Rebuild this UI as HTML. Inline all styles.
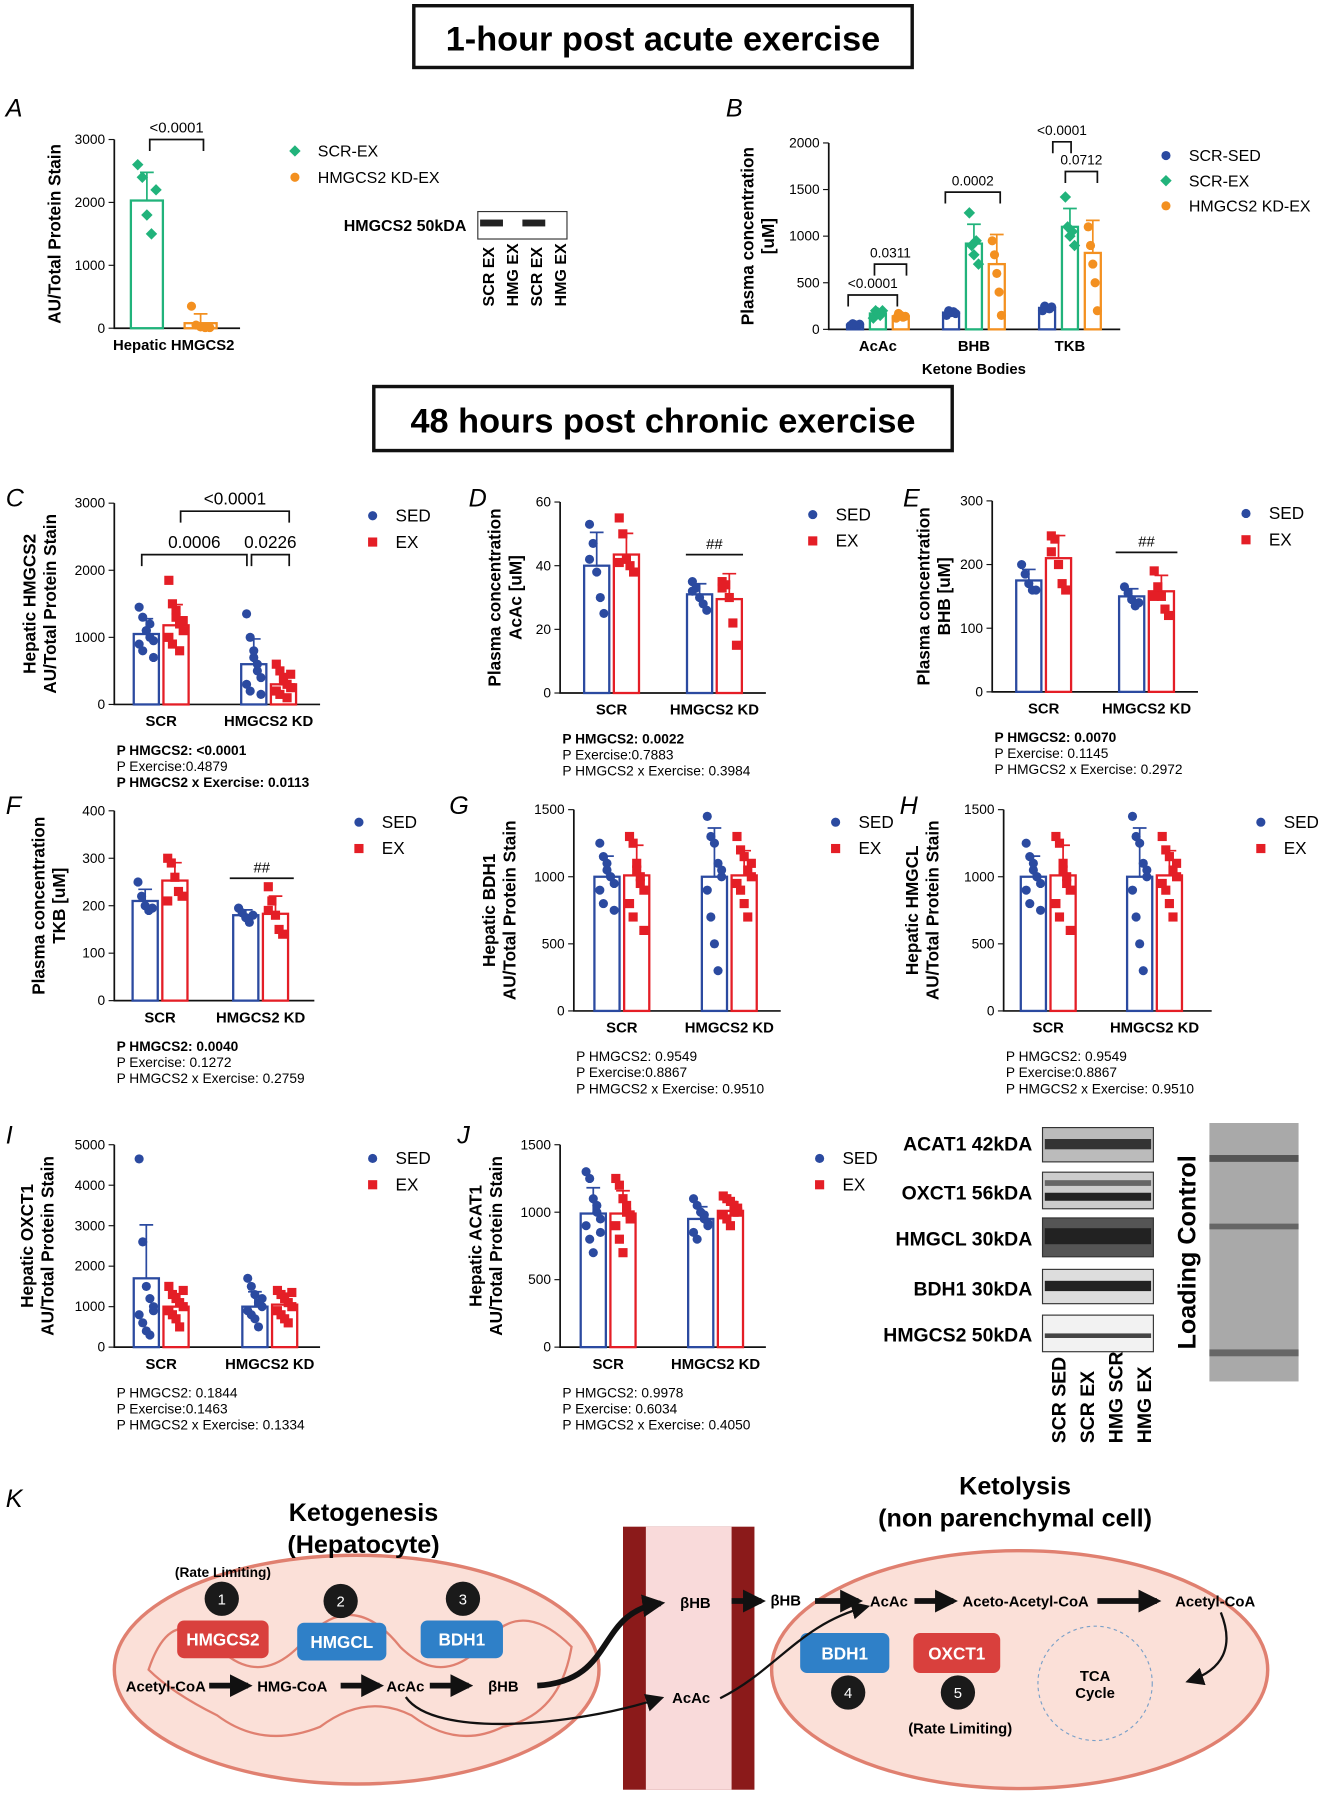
<!DOCTYPE html>
<html><head><meta charset="utf-8"><style>
html,body{margin:0;padding:0;background:#fff}
svg{display:block}
text{font-family:"Liberation Sans",sans-serif}
</style></head><body>
<svg id="fig" width="1326" height="1800" viewBox="0 0 1160 1574" preserveAspectRatio="none" xmlns="http://www.w3.org/2000/svg">
<defs><marker id="ah" viewBox="0 0 10 10" refX="8" refY="5" markerWidth="4" markerHeight="4" orient="auto"><path d="M0 0L10 5L0 10z" fill="#111"/></marker>
<marker id="ah2" viewBox="0 0 10 10" refX="8" refY="5" markerWidth="8" markerHeight="8" orient="auto"><path d="M0 0L10 5L0 10z" fill="#111"/></marker></defs>
<g id="hdr">
<rect x="362" y="5" width="436" height="54" fill="#fff" stroke="#111" stroke-width="3"/>
<text x="580" y="44" font-size="30" font-weight="bold" text-anchor="middle">1-hour post acute exercise</text>
<rect x="327" y="338" width="506" height="56" fill="#fff" stroke="#111" stroke-width="3"/>
<text x="580" y="378" font-size="30" font-weight="bold" text-anchor="middle">48 hours post chronic exercise</text>
</g>
<g id="charts"></g>
<g id="blots">
<rect x="418" y="185" width="78" height="24" fill="#fff" stroke="#333"/>
<rect x="420" y="192" width="20" height="6" fill="#222"/><rect x="457" y="192" width="20" height="6" fill="#222"/>
<text x="408" y="202" font-size="14" font-weight="bold" text-anchor="end">HMGCS2 50kDA</text>
<g font-size="14" font-weight="bold">
<text transform="translate(432,268) rotate(-90)">SCR EX</text><text transform="translate(453,268) rotate(-90)">HMG EX</text>
<text transform="translate(474,268) rotate(-90)">SCR EX</text><text transform="translate(495,268) rotate(-90)">HMG EX</text>
</g>
<g font-size="17" font-weight="bold" text-anchor="end">
<text x="903" y="1006">ACAT1  42kDA</text><text x="903" y="1049">OXCT1  56kDA</text><text x="903" y="1089">HMGCL  30kDA</text><text x="903" y="1133">BDH1  30kDA</text><text x="903" y="1173">HMGCS2  50kDA</text>
</g>
<rect x="912" y="986" width="97" height="30" fill="#bbb" stroke="#333"/><rect x="914" y="996" width="93" height="9" fill="#333"/>
<rect x="912" y="1025" width="97" height="32" fill="#ccc" stroke="#333"/><rect x="914" y="1032" width="93" height="5" fill="#666"/><rect x="914" y="1043" width="93" height="7" fill="#222"/>
<rect x="912" y="1065" width="97" height="34" fill="#555" stroke="#333"/><rect x="914" y="1074" width="93" height="14" fill="#222"/>
<rect x="912" y="1110" width="97" height="30" fill="#ddd" stroke="#333"/><rect x="914" y="1120" width="93" height="9" fill="#222"/>
<rect x="912" y="1150" width="97" height="32" fill="#f2f2f2" stroke="#333"/><rect x="914" y="1166" width="93" height="4" fill="#444"/>
<g font-size="17" font-weight="bold">
<text transform="translate(932,1262) rotate(-90)">SCR SED</text><text transform="translate(957,1262) rotate(-90)">SCR EX</text>
<text transform="translate(982,1262) rotate(-90)">HMG SCR</text><text transform="translate(1007,1262) rotate(-90)">HMG EX</text>
</g>
<text transform="translate(1046,1180) rotate(-90)" font-size="22" font-weight="bold">Loading Control</text>
<rect x="1058" y="982" width="78" height="226" fill="#a9a9a9"/>
<rect x="1058" y="1010" width="78" height="6" fill="#555"/><rect x="1058" y="1070" width="78" height="5" fill="#666"/><rect x="1058" y="1180" width="78" height="6" fill="#666"/>
</g>
<g id="diagram">
<text x="5" y="1318" font-size="22" font-style="italic">K</text>
<ellipse cx="312" cy="1460" rx="212" ry="100" fill="#fbe0d8" stroke="#e08070" stroke-width="3"/>
<path d="M130 1460 q20 -60 60 -20 q40 40 80 -10 q40 -40 80 10 q40 40 80 -10 q30 -30 70 10 q-10 60 -60 70 q-40 20 -80 -10 q-40 -20 -80 10 q-50 20 -90 -10 q-40 -20 -60 -40z" fill="none" stroke="#e08070" stroke-width="2"/>
<ellipse cx="892" cy="1460" rx="217" ry="104" fill="#fbe0d8" stroke="#e08070" stroke-width="3"/>
<rect x="545" y="1335" width="115" height="230" fill="#8b1a1a"/><rect x="565" y="1335" width="75" height="230" fill="#f9dada"/>
<text x="318" y="1330" font-size="22" font-weight="bold" text-anchor="middle">Ketogenesis</text>
<text x="318" y="1358" font-size="22" font-weight="bold" text-anchor="middle">(Hepatocyte)</text>
<text x="888" y="1307" font-size="22" font-weight="bold" text-anchor="middle">Ketolysis</text>
<text x="888" y="1335" font-size="22" font-weight="bold" text-anchor="middle">(non parenchymal cell)</text>
<text x="195" y="1379" font-size="12" font-weight="bold" text-anchor="middle">(Rate Limiting)</text>
<g fill="#1a1a1a"><circle cx="194" cy="1398" r="15"/><circle cx="298" cy="1400" r="15"/><circle cx="405" cy="1398" r="15"/><circle cx="742" cy="1480" r="15"/><circle cx="838" cy="1480" r="15"/></g>
<g fill="#fff" font-size="13" text-anchor="middle"><text x="194" y="1403">1</text><text x="298" y="1405">2</text><text x="405" y="1403">3</text><text x="742" y="1485">4</text><text x="838" y="1485">5</text></g>
<rect x="155" y="1417" width="80" height="33" rx="6" fill="#d9403d"/><rect x="260" y="1419" width="78" height="33" rx="6" fill="#2f80c8"/><rect x="368" y="1417" width="72" height="33" rx="6" fill="#2f80c8"/>
<rect x="700" y="1428" width="78" height="35" rx="6" fill="#2f80c8"/><rect x="799" y="1428" width="76" height="35" rx="6" fill="#d9403d"/>
<g fill="#fff" font-size="15" font-weight="bold" text-anchor="middle"><text x="195" y="1439">HMGCS2</text><text x="299" y="1441">HMGCL</text><text x="404" y="1439">BDH1</text><text x="739" y="1451">BDH1</text><text x="837" y="1451">OXCT1</text></g>
<g font-size="13" font-weight="bold"><text x="110" y="1479">Acetyl-CoA</text><text x="225" y="1479">HMG-CoA</text><text x="338" y="1479">AcAc</text><text x="427" y="1479">βHB</text>
<text x="595" y="1406">βHB</text><text x="588" y="1489">AcAc</text><text x="674" y="1404">βHB</text><text x="761" y="1405">AcAc</text><text x="842" y="1405">Aceto-Acetyl-CoA</text><text x="1028" y="1405">Acetyl-CoA</text>
<text x="958" y="1470" text-anchor="middle">TCA</text><text x="958" y="1485" text-anchor="middle">Cycle</text><text x="840" y="1516" text-anchor="middle">(Rate Limiting)</text></g>
<g stroke="#111" stroke-width="5" fill="none" marker-end="url(#ah)"><path d="M183 1474h34"/><path d="M298 1474h34"/><path d="M376 1474h34"/><path d="M640 1400h26"/><path d="M713 1400h38"/><path d="M800 1400h34"/><path d="M960 1400h52"/></g>
<path d="M470 1474 C540 1470 520 1410 578 1402" stroke="#111" stroke-width="5" fill="none" marker-end="url(#ah)"/>
<path d="M355 1484 C380 1520 500 1510 578 1485" stroke="#111" stroke-width="2" fill="none" marker-end="url(#ah2)"/>
<path d="M630 1485 C680 1460 700 1420 758 1405" stroke="#111" stroke-width="2" fill="none" marker-end="url(#ah2)"/>
<path d="M1068 1410 C1080 1440 1070 1460 1040 1470" stroke="#111" stroke-width="2" fill="none" marker-end="url(#ah2)"/>
<circle cx="958" cy="1472" r="50" fill="none" stroke="#7aa0c8" stroke-dasharray="3 3"/>
</g>
</svg>
<script>
const NS='http://www.w3.org/2000/svg';
const root=document.getElementById('charts');
const BLUE='#2b4aa0',RED='#e41e26',GREEN='#21b37b',ORANGE='#f39020';
// ---- data ----
const aCats=['Hepatic HMGCS2'];
const aScrEx=[2030];const aKdEx=[80];
const aScrExPts=[[2600,2400,1800,1500,2200]];const aKdExPts=[[350,50,20,10,10]];
const bCats=['AcAc','BHB','TKB'];
const bSed=[50,180,230];const bEx=[170,920,1100];const bKd=[140,700,820];
const bSedPts=[[40,60,50,45,55],[150,200,180,190,170],[200,250,230,220,240]];
const bExPts=[[120,200,180,150,200],[1250,900,800,950,700],[1420,1100,1000,1050,900]];
const bKdPts=[[120,170,150,130,140],[950,800,600,400,150],[1100,900,700,500,200]];
const chCats=['SCR','HMGCS2 KD'];
const cSed=[1050,600];const cEx=[1180,300];
const cSedPts=[[1450,1300,1100,1000,950,900,800,1100,1200,700],[1350,1000,700,500,400,300,200,800,600,150]];
const cExPts=[[1850,1500,1300,1200,1100,1000,900,1400,800,1250],[600,500,400,300,250,200,150,350,100,450]];
const dSed=[40,31];const dEx=[43.5,29.5];
const dSedPts=[[53,47,38,30,25,42],[35,33,30,28,26,32]];const dExPts=[[55,50,42,40,38,41],[35,34,30,22,15,33]];
const eSed=[175,150];const eEx=[210,158];
const eSedPts=[[200,185,170,160,160],[165,155,145,135,140]];const eExPts=[[245,240,200,170,160,220],[190,165,150,130,120,150]];
const fSed=[210,180];const fEx=[253,183];
const fSedPts=[[250,220,200,190,195],[195,185,175,165,180]];const fExPts=[[300,290,260,230,220,210],[240,210,180,150,140,190]];
const gSed=[1000,1000];const gEx=[1010,1010];
const gSedPts=[[1250,1150,1050,1000,950,900,800,1100,1000,750],[1450,1300,1250,1100,1000,900,700,500,300,1050]];
const gExPts=[[1300,1250,1100,1000,900,800,700,1050,950,600],[1300,1200,1150,1050,1000,950,900,800,700,1100]];
const iSed=[1700,1000];const iEx=[1000,1050];
const iSedPts=[[4650,2600,1500,1200,1000,800,600,400,300,900],[1700,1500,1300,1100,1000,900,800,700,500,1200]];
const iExPts=[[1500,1300,1200,1100,1000,900,800,700,500,1400],[1400,1300,1200,1100,1000,900,800,700,600,1350]];
const jSed=[990,950];const jEx=[990,1010];
const jSedPts=[[1300,1250,1100,1000,950,900,800,700,1050,850],[1100,1050,1000,950,900,850,800,1000,980,920]];
const jExPts=[[1250,1200,1100,1000,950,900,800,700,1050,980],[1120,1100,1080,1050,1000,980,950,900,1000,1030]];
function el(t,a,p){const e=document.createElementNS(NS,t);for(const k in a)e.setAttribute(k,a[k]);(p||root).appendChild(e);return e;}
function tx(s,x,y,a,p){const e=el('text',Object.assign({x:x,y:y},a||{}),p);e.textContent=s;return e;}
function sd(a){const m=a.reduce((s,v)=>s+v,0)/a.length;return Math.sqrt(a.reduce((s,v)=>s+(v-m)*(v-m),0)/(a.length-1));}
function panel(o){
 const g=el('g',{});
 
 
 const y=v=>o.y0-(v/o.max)*(o.y0-o.y1);
 const ax=el('path',{d:`M${o.ax} ${o.y1}V${o.y0}H${o.axEnd}`,stroke:'#111','stroke-width':1.5,fill:'none'},g);
 
 
 o.ticks.forEach(t=>{el('line',{x1:o.ax-5,x2:o.ax,y1:y(t),y2:y(t),stroke:'#111'},g);const l=tx(String(t),o.ax-8,y(t)+4,{'font-size':12,'text-anchor':'end'},g);});
 o.cats.forEach((c,i)=>{const cx=o.ax+o.pad+i*o.gap;const l=tx(c,cx,o.y0+19,{'font-size':13,'font-weight':'bold','text-anchor':'middle'},g);
  o.series.forEach((s,k)=>{const bx=cx+(k-(o.series.length-1)/2)*o.step;const v=s.vals[i];const pts=s.pts[i];
   const r=el('rect',{x:bx-o.bw/2,y:y(v),width:o.bw,height:o.y0-y(v),fill:'#fff',stroke:s.c,'stroke-width':2},g);
   
   
   const e=sd(pts);el('path',{d:`M${bx} ${y(v)}V${y(v+e)}M${bx-6} ${y(v+e)}h12`,stroke:s.c,'stroke-width':1.5},g);
   pts.forEach((p,j)=>{const jx=bx+((j%5)-2)*o.bw/7;
    const m=s.shape==='sq'?el('rect',{x:jx-4,y:y(p)-4,width:8,height:8,fill:s.c},g):s.shape==='dia'?el('path',{d:`M${jx} ${y(p)-5}l5 5l-5 5l-5 -5z`,fill:s.c},g):el('circle',{cx:jx,cy:y(p),r:4,fill:s.c},g);
    
    });
  });});
 const t=tx('',0,0,{'font-size':15,'font-weight':'bold','text-anchor':'middle',transform:`translate(${o.tx},${(o.y0+o.y1)/2}) rotate(-90)`},g);
 
 
 o.title.forEach((s,i)=>{const ts=el('tspan',{x:0,dy:i?18:(o.title.length>1?-9:0)},t);ts.textContent=s;});
 if(o.letter){const L=tx(o.letter,o.lx,o.ly,{'font-size':22,'font-style':'italic'},g);}
 let ly=o.legY;o.series.forEach(s=>{const mk=s.shape==='sq'?el('rect',{x:o.legX-4,y:ly-4,width:8,height:8,fill:s.c},g):s.shape==='dia'?el('path',{d:`M${o.legX} ${ly-5}l5 5l-5 5l-5 -5z`,fill:s.c},g):el('circle',{cx:o.legX,cy:ly,r:4,fill:s.c},g);
  
  
  const lt=tx(s.label,o.legX+20,ly+5,{'font-size':o.legFs||15},g);ly+=o.legDy||23;});
 (o.stats||[]).forEach((s,i)=>{const st=tx(s,o.ax+2,o.y0+44+i*14,{'font-size':12,'font-weight':i===0&&o.bold0||o.boldAll&&i!==1?'bold':'normal'},g);});
 return {g,y};
}
const SED=(v,p)=>({n:'sed',c:BLUE,shape:'circ',vals:v,pts:p,label:'SED'});
const EX=(v,p)=>({n:'ex',c:RED,shape:'sq',vals:v,pts:p,label:'EX'});
// A
panel({name:'panel-a',letter:'A',lx:5,ly:102,ax:100,axEnd:210,y0:287,y1:122,max:3000,ticks:[0,1000,2000,3000],cats:aCats,pad:52,gap:0,step:47,bw:28,
 series:[{n:'scr-ex',c:GREEN,shape:'dia',vals:aScrEx,pts:aScrExPts,label:'SCR-EX'},{n:'kd-ex',c:ORANGE,shape:'circ',vals:aKdEx,pts:aKdExPts,label:'HMGCS2 KD-EX'}],
 title:['AU/Total Protein Stain'],tx:53,legX:258,legY:132,legFs:14});
// B
panel({name:'panel-b',letter:'B',lx:635,ly:102,ax:725,axEnd:980,y0:288,y1:125,max:2000,ticks:[0,500,1000,1500,2000],cats:bCats,pad:43,gap:84,step:20,bw:14,
 series:[{n:'scr-sed',c:BLUE,shape:'circ',vals:bSed,pts:bSedPts,label:'SCR-SED'},{n:'scr-ex',c:GREEN,shape:'dia',vals:bEx,pts:bExPts,label:'SCR-EX'},{n:'kd-ex',c:ORANGE,shape:'circ',vals:bKd,pts:bKdPts,label:'HMGCS2 KD-EX'}],
 title:['Plasma concentration','[uM]'],tx:668,legX:1020,legY:136,legFs:14,legDy:22});
tx('Ketone Bodies',852,327,{'font-size':13,'font-weight':'bold','text-anchor':'middle'});
// C
panel({name:'panel-c',letter:'C',lx:5,ly:443,ax:100,axEnd:280,y0:616,y1:440,max:3000,ticks:[0,1000,2000,3000],cats:chCats,pad:41,gap:94,step:26,bw:22,
 series:[SED(cSed,cSedPts),EX(cEx,cExPts)],title:['Hepatic HMGCS2','AU/Total Protein Stain'],tx:40,legX:326,legY:451,
 stats:['P HMGCS2: <0.0001','P Exercise:0.4879','P HMGCS2 x Exercise: 0.0113'],boldAll:true});
// D
panel({name:'panel-d',letter:'D',lx:410,ly:443,ax:490,axEnd:670,y0:606,y1:439,max:60,ticks:[0,20,40,60],cats:chCats,pad:45,gap:90,step:26,bw:22,
 series:[SED(dSed,dSedPts),EX(dEx,dExPts)],title:['Plasma concentration','AcAc [uM]'],tx:447,legX:711,legY:450,
 stats:['P HMGCS2: 0.0022','P Exercise:0.7883','P HMGCS2 x Exercise: 0.3984'],bold0:true});
// E
panel({name:'panel-e',letter:'E',lx:790,ly:443,ax:868,axEnd:1048,y0:605,y1:438,max:300,ticks:[0,100,200,300],cats:chCats,pad:45,gap:90,step:26,bw:22,
 series:[SED(eSed,eSedPts),EX(eEx,eExPts)],title:['Plasma concentration','BHB [uM]'],tx:822,legX:1090,legY:449,
 stats:['P HMGCS2: 0.0070','P Exercise: 0.1145','P HMGCS2 x Exercise: 0.2972'],bold0:true});
// F
panel({name:'panel-f',letter:'F',lx:5,ly:712,ax:100,axEnd:275,y0:875,y1:709,max:400,ticks:[0,100,200,300,400],cats:chCats,pad:40,gap:88,step:26,bw:22,
 series:[SED(fSed,fSedPts),EX(fEx,fExPts)],title:['Plasma concentration','TKB [uM]'],tx:48,legX:314,legY:719,
 stats:['P HMGCS2: 0.0040','P Exercise: 0.1272','P HMGCS2 x Exercise: 0.2759'],bold0:true});
// G
panel({name:'panel-g',letter:'G',lx:393,ly:712,ax:502,axEnd:683,y0:884,y1:708,max:1500,ticks:[0,500,1000,1500],cats:chCats,pad:42,gap:94,step:26,bw:22,
 series:[SED(gSed,gSedPts),EX(gEx,gExPts)],title:['Hepatic BDH1','AU/Total Protein Stain'],tx:442,legX:731,legY:719,
 stats:['P HMGCS2: 0.9549','P Exercise:0.8867','P HMGCS2 x Exercise: 0.9510']});
// H
panel({name:'panel-h',letter:'H',lx:787,ly:712,ax:878,axEnd:1060,y0:884,y1:708,max:1500,ticks:[0,500,1000,1500],cats:chCats,pad:39,gap:93,step:26,bw:22,
 series:[SED(gSed,gSedPts),EX(gEx,gExPts)],title:['Hepatic HMGCL','AU/Total Protein Stain'],tx:812,legX:1103,legY:719,
 stats:['P HMGCS2: 0.9549','P Exercise:0.8867','P HMGCS2 x Exercise: 0.9510']});
// I
panel({name:'panel-i',letter:'I',lx:5,ly:1000,ax:100,axEnd:280,y0:1178,y1:1001,max:5000,ticks:[0,1000,2000,3000,4000,5000],cats:chCats,pad:41,gap:95,step:26,bw:22,
 series:[SED(iSed,iSedPts),EX(iEx,iExPts)],title:['Hepatic OXCT1','AU/Total Protein Stain'],tx:38,legX:326,legY:1013,
 stats:['P HMGCS2: 0.1844','P Exercise:0.1463','P HMGCS2 x Exercise: 0.1334']});
// J
panel({name:'panel-j',letter:'J',lx:400,ly:1000,ax:490,axEnd:670,y0:1178,y1:1001,max:1500,ticks:[0,500,1000,1500],cats:chCats,pad:42,gap:94,step:26,bw:22,
 series:[SED(jSed,jSedPts),EX(jEx,jExPts)],title:['Hepatic ACAT1','AU/Total Protein Stain'],tx:430,legX:717,legY:1013,
 stats:['P HMGCS2: 0.9978','P Exercise: 0.6034','P HMGCS2 x Exercise: 0.4050']});
// significance brackets: [bracketY, x1, x2, label, fontSize]
const br=[[122,131,178,'<0.0001',13],[168,827,875,'0.0002',12],[258,742,785,'<0.0001',12],[231,765,793,'0.0311',12],[124,921,937,'<0.0001',12],[150,932,960,'0.0712',12],
[447,158,253,'<0.0001',15],[485,124,216,'0.0006',15],[485,220,253,'0.0226',15]];
br.forEach(b=>{const p=el('path',{d:`M${b[1]} ${b[0]+10}V${b[0]}H${b[2]}V${b[0]+10}`,stroke:'#111','stroke-width':1.5,fill:'none'});
 const t=tx(b[3],(b[1]+b[2])/2,b[0]-6,{'font-size':b[4],'text-anchor':'middle'});});
[[600,650,485],[976,1030,483],[201,257,768]].forEach(h=>{el('line',{x1:h[0],x2:h[1],y1:h[2],y2:h[2],stroke:'#111','stroke-width':1.5});const t=tx('##',(h[0]+h[1])/2,h[2]-5,{'font-size':13,'text-anchor':'middle'});});
</script>
</body></html>
